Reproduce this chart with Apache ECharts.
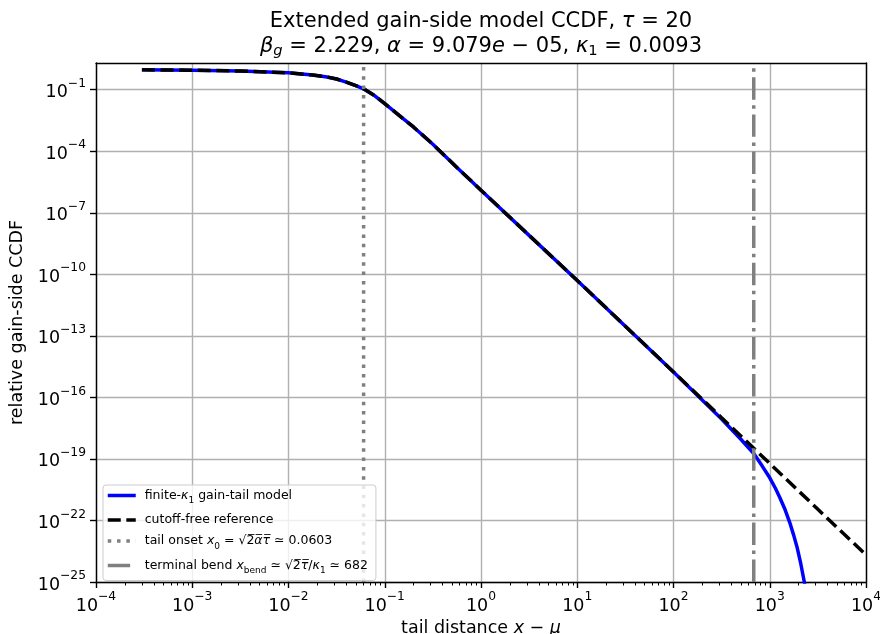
<!DOCTYPE html>
<html>
<head>
<meta charset="utf-8">
<script src="https://cdn.jsdelivr.net/npm/echarts@6/dist/echarts.min.js"></script>
<style>
  html, body { margin: 0; padding: 0; background: #ffffff; }
  #chart { width: 880px; height: 634px; }
</style>
</head>
<body>
<div id="chart"></div>
<script>
// Shared body of both curves: tail distance x - mu and relative CCDF
const bodyX    = [3.0e-4, 1e-3, 3.16e-3, 1e-2, 1.78e-2, 2.51e-2, 3.16e-2, 3.98e-2, 5.01e-2, 6.03e-2,
                  7.94e-2, 0.1, 0.141, 0.2, 0.316, 0.562, 1, 3.16, 10, 31.6, 100];
const bodyCCDF = [0.933, 0.891, 0.813, 0.661, 0.513, 0.417, 0.331, 0.234, 0.158, 0.110,
                  0.049, 0.0209, 5.6e-3, 1.48e-3, 2.19e-4, 1.62e-5, 1.26e-6, 7.9e-9, 5.0e-11, 2.95e-13, 1.74e-15];

// Cutoff-free power-law reference beyond x = 100
const refTailX    = [316, 1000, 3162, 10000];
const refTailCCDF = [1.02e-17, 6.0e-20, 3.5e-22, 2.1e-24];

// Finite-kappa1 model: terminal bend beyond x = 100
const modelTailX    = [316, 501, 685, 832, 1000, 1148, 1271, 1445, 1614, 1778, 1932, 2089, 2239, 2399];
const modelTailCCDF = [8.9e-18, 9.1e-19, 1.78e-19, 4.6e-20, 1.2e-20, 3.6e-21, 1.32e-21, 3.3e-22,
                       7.9e-23, 1.82e-23, 4.5e-24, 8.9e-25, 1.66e-25, 3.0e-26];

// Reference positions
const onsetX = 0.0603;   // tail onset x0
const bendX  = 682;      // terminal bend

// Axis ranges and ticks (decimal exponents)
const xExpRange = [-4, 4];
const yExpRange = [-25, 0.3];
const yTickExps = [-25, -22, -19, -16, -13, -10, -7, -4, -1];

const seriesNames = [
  'finite-κ1 gain-tail model',
  'cutoff-free reference',
  'tail onset x0',
  'terminal bend xbend'
];

const FONT = 'DejaVu Sans';
const log10 = v => Math.log10(v);
const toPoints = (xs, ys) => xs.map((x, i) => [log10(x), log10(ys[i])]);

const modelPoints = toPoints(bodyX.concat(modelTailX), bodyCCDF.concat(modelTailCCDF));
const refPoints   = toPoints(bodyX.concat(refTailX), bodyCCDF.concat(refTailCCDF));

// minor ticks at 2..9 x 10^n on the log x axis
const minorX = [];
for (let n = xExpRange[0]; n < xExpRange[1]; n++) {
  for (let k = 2; k <= 9; k++) minorX.push(log10(k) + n);
}

const powLabel = v => {
  const e = Math.round(v);
  return '{b|10}{s|' + (e < 0 ? '\u2212' + (-e) : String(e)) + '}';
};
const tickRich = {
  b: { fontFamily: FONT, fontSize: 17.5, color: '#000', lineHeight: 24, verticalAlign: 'bottom' },
  s: { fontFamily: FONT, fontSize: 12.3, color: '#000', lineHeight: 14, verticalAlign: 'top' }
};

const legendText = {
  'finite-κ1 gain-tail model': '{t|finite-}{i|κ}{u|1}{t| gain-tail model}',
  'cutoff-free reference': '{t|cutoff-free reference}',
  'tail onset x0': '{t|tail onset }{i|x}{u|0}{t| = √}{t|2\u0305}{i|α\u0305τ\u0305}{t| ≃ 0.0603}',
  'terminal bend xbend': '{t|terminal bend }{i|x}{u|bend}{t| ≃ √}{t|2\u0305}{i|τ\u0305}{t|/}{i|κ}{u|1}{t| ≃ 682}'
};

const seriesStyles = [
  { color: '#0000ff', width: 3.5, type: 'solid' },
  { color: '#000000', width: 3.5, type: [13, 5.6] },
  { color: '#808080', width: 3.5, type: [3.5, 5.8] },
  { color: '#808080', width: 3.5, type: [22.4, 5.6, 3.5, 5.6] }
];

const chart = echarts.init(document.getElementById('chart'), null, { renderer: 'canvas' });

chart.setOption({
  animation: false,
  backgroundColor: '#ffffff',
  title: {
    left: 481,
    top: 9,
    padding: 0,
    textAlign: 'center',
    text: '{t|Extended gain-side model CCDF, }{i|τ}{t| = 20}\n' +
          '{i|β}{u|g}{t| = 2.229, }{i|α}{t| = 9.079}{i|e}{t| − 05, }{i|κ}{n|1}{t| = 0.0093}',
    textStyle: {
      fontWeight: 'normal',
      rich: {
        t: { fontFamily: FONT, fontSize: 21, fontWeight: 'normal', color: '#000', lineHeight: 25 },
        i: { fontFamily: FONT, fontSize: 21, fontWeight: 'normal', fontStyle: 'italic', color: '#000', lineHeight: 25 },
        u: { fontFamily: FONT, fontSize: 14.7, fontWeight: 'normal', fontStyle: 'italic', color: '#000', lineHeight: 14, verticalAlign: 'bottom' },
        n: { fontFamily: FONT, fontSize: 14.7, fontWeight: 'normal', color: '#000', lineHeight: 14, verticalAlign: 'bottom' }
      }
    }
  },
  grid: { left: 96, right: 14, top: 63, bottom: 52, containLabel: false, outerBoundsMode: 'none' },
  legend: {
    orient: 'vertical',
    left: 103,
    top: 485,
    z: 10,
    padding: [4, 8, 5, 3],
    itemWidth: 28,
    itemHeight: 14,
    itemGap: 8,
    backgroundColor: 'rgba(255,255,255,0.8)',
    borderColor: '#cccccc',
    borderWidth: 1,
    borderRadius: 3,
    data: seriesNames.map((name, i) => ({
      name: name,
      itemStyle: { opacity: 0, borderWidth: 0 },
      lineStyle: { color: seriesStyles[i].color, width: seriesStyles[i].width, type: seriesStyles[i].type }
    })),
    formatter: name => legendText[name],
    textStyle: {
      padding: [0, 0, 0, 4],
      rich: {
        t: { fontFamily: FONT, fontSize: 12.5, color: '#000', lineHeight: 14 },
        i: { fontFamily: FONT, fontSize: 12.5, fontStyle: 'italic', color: '#000', lineHeight: 14 },
        u: { fontFamily: FONT, fontSize: 9, color: '#000', lineHeight: 9, verticalAlign: 'bottom', padding: [0, 0, -3, 0] }
      }
    }
  },
  xAxis: [
    {
      type: 'value',
      min: xExpRange[0],
      max: xExpRange[1],
      interval: 1,
      position: 'bottom',
      name: '{t|tail distance }{i|x}{t| − }{i|μ}',
      nameLocation: 'middle',
      nameGap: 28,
      nameTextStyle: {
        rich: {
          t: { fontFamily: FONT, fontSize: 17.5, color: '#000' },
          i: { fontFamily: FONT, fontSize: 17.5, fontStyle: 'italic', color: '#000' }
        }
      },
      axisLine: { show: true, onZero: false, lineStyle: { color: '#000', width: 1.4 } },
      axisTick: { show: true, inside: false, length: 6, lineStyle: { color: '#000', width: 1.4 } },
      axisLabel: { margin: 9, formatter: powLabel, rich: tickRich },
      splitLine: { show: true, lineStyle: { color: '#b0b0b0', width: 1.4 } }
    },
    {
      type: 'value',
      min: xExpRange[0],
      max: xExpRange[1],
      position: 'bottom',
      axisLine: { show: false, onZero: false },
      axisTick: { show: true, inside: false, length: 3.5, customValues: minorX, lineStyle: { color: '#000', width: 1 } },
      axisLabel: { show: false },
      splitLine: { show: false }
    },
    {
      type: 'value',
      min: xExpRange[0],
      max: xExpRange[1],
      position: 'top',
      axisLine: { show: true, onZero: false, lineStyle: { color: '#000', width: 1.4 } },
      axisTick: { show: false },
      axisLabel: { show: false },
      splitLine: { show: false }
    }
  ],
  yAxis: [
    {
      type: 'value',
      min: yExpRange[0],
      max: yExpRange[1],
      position: 'left',
      name: 'relative gain-side CCDF',
      nameLocation: 'middle',
      nameGap: 55,
      nameTextStyle: { fontFamily: FONT, fontSize: 17.5, color: '#000' },
      axisLine: { show: true, onZero: false, lineStyle: { color: '#000', width: 1.4 } },
      axisTick: { show: true, inside: false, length: 6, customValues: yTickExps, lineStyle: { color: '#000', width: 1.4 } },
      axisLabel: { margin: 10, customValues: yTickExps, formatter: powLabel, rich: tickRich },
      splitLine: { show: true, lineStyle: { color: '#b0b0b0', width: 1.4 } }
    },
    {
      type: 'value',
      min: yExpRange[0],
      max: yExpRange[1],
      position: 'right',
      axisLine: { show: true, onZero: false, lineStyle: { color: '#000', width: 1.4 } },
      axisTick: { show: false },
      axisLabel: { show: false },
      splitLine: { show: false }
    }
  ],
  series: [
    {
      name: seriesNames[0],
      type: 'line',
      data: modelPoints,
      symbol: 'none',
      clip: true,
      color: seriesStyles[0].color,
      lineStyle: seriesStyles[0],
      z: 2
    },
    {
      name: seriesNames[1],
      type: 'line',
      data: refPoints,
      symbol: 'none',
      clip: true,
      color: seriesStyles[1].color,
      lineStyle: seriesStyles[1],
      z: 3
    },
    {
      name: seriesNames[2],
      type: 'line',
      data: [[log10(onsetX), yExpRange[0]], [log10(onsetX), yExpRange[1]]],
      symbol: 'none',
      clip: true,
      color: seriesStyles[2].color,
      lineStyle: seriesStyles[2],
      z: 4
    },
    {
      name: seriesNames[3],
      type: 'line',
      data: [[log10(bendX), yExpRange[0]], [log10(bendX), yExpRange[1]]],
      symbol: 'none',
      clip: true,
      color: seriesStyles[3].color,
      lineStyle: seriesStyles[3],
      z: 4
    }
  ]
});
</script>
</body>
</html>
